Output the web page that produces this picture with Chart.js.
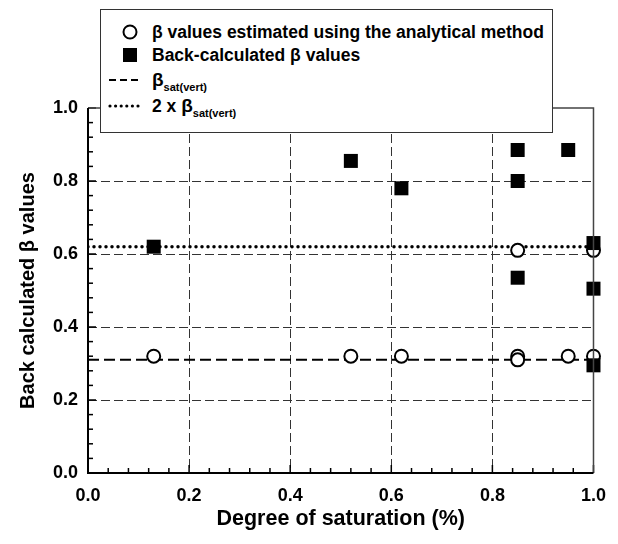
<!DOCTYPE html>
<html>
<head>
<meta charset="utf-8">
<script src="https://cdn.jsdelivr.net/npm/chart.js@4.4.1/dist/chart.umd.min.js"></script>
<style>
  html, body { margin: 0; padding: 0; background: #fff; }
  #wrap { position: relative; width: 618px; height: 544px; }
  #legend {
    position: absolute; left: 100px; top: 9px; width: 453px; height: 124px;
    border: 1px solid #333; background: #fff; box-sizing: border-box;
    font-family: "Liberation Sans", Arial, sans-serif; font-weight: bold; font-size: 17.5px; color: #000;
  }
  .row { position: absolute; left: 0; height: 22px; width: 100%; }
  .row svg { position: absolute; left: 6px; top: 0; }
  .row .txt { position: absolute; left: 51px; top: 0; line-height: 22px; white-space: nowrap; }
  .row sub { font-size: 11px; vertical-align: -5px; }
  .big { font-size: 19px; }
</style>
</head>
<body>
<div id="wrap">
  <canvas id="myChart" width="618" height="544"></canvas>
  <div id="legend">
    <div class="row" style="top:11px">
      <svg width="34" height="22"><circle cx="23" cy="11" r="6.5" fill="#fff" stroke="#000" stroke-width="2"/></svg>
      <span class="txt">&beta; values estimated using the analytical method</span>
    </div>
    <div class="row" style="top:34px">
      <svg width="34" height="22"><rect x="16" y="4" width="14" height="14" fill="#000"/></svg>
      <span class="txt">Back-calculated &beta; values</span>
    </div>
    <div class="row" style="top:59px">
      <svg width="34" height="22"><line x1="2" y1="11" x2="31" y2="11" stroke="#000" stroke-width="2" stroke-dasharray="7,4"/></svg>
      <span class="txt"><span class="big">&beta;</span><sub>sat(vert)</sub></span>
    </div>
    <div class="row" style="top:85px">
      <svg width="34" height="22"><line x1="3" y1="11" x2="32" y2="11" stroke="#000" stroke-width="3.2" stroke-linecap="round" stroke-dasharray="0,5.6"/></svg>
      <span class="txt">2 x <span class="big">&beta;</span><sub>sat(vert)</sub></span>
    </div>
  </div>
</div>
<script>
// degree of saturation vs beta
var circleX = [0.13, 0.52, 0.62, 0.85, 0.85, 0.95, 1.0, 0.85, 1.0];
var circleY = [0.32, 0.32, 0.32, 0.32, 0.31, 0.32, 0.32, 0.61, 0.61];

var squareX = [0.13, 0.52, 0.62, 0.85, 0.85, 0.85, 0.95, 1.0, 1.0, 1.0];
var squareY = [0.62, 0.855, 0.78, 0.885, 0.80, 0.535, 0.885, 0.63, 0.505, 0.295];

var betaSat = 0.31;
var betaSat2 = 0.62;
var lineX = [0, 1];

var xTicks = [0, 0.2, 0.4, 0.6, 0.8, 1.0];
var yTicks = [0, 0.2, 0.4, 0.6, 0.8, 1.0];

var fontFam = '"Liberation Sans", Arial, sans-serif';

function pts(xs, ys) {
    var out = [];
    for (var i = 0; i < xs.length; i++) out.push({x: xs[i], y: ys[i]});
    return out;
}

function gridColor(ctx) {
    var v = ctx.tick ? ctx.tick.value : 0;
    if (Math.abs(v) < 1e-6 || Math.abs(v - 1) < 1e-6) return 'rgba(0,0,0,0)';
    return '#333';
}

// inward ticks (major + minor) and the plot frame
const frameTicks = {
    id: 'frameTicks',
    afterDatasetsDraw(chart) {
        const c = chart.ctx, a = chart.chartArea;
        const xs = chart.scales.x, ys = chart.scales.y;
        c.save();
        c.strokeStyle = '#000';
        c.lineWidth = 1.5;
        for (var k = 0; k <= 25; k++) {
            var v = k * 0.04;
            var len = (k % 5 === 0) ? 8 : 5;
            var px = xs.getPixelForValue(v);
            c.beginPath(); c.moveTo(px, a.bottom); c.lineTo(px, a.bottom - len); c.stroke();
            var py = ys.getPixelForValue(v);
            c.beginPath(); c.moveTo(a.left, py); c.lineTo(a.left + len, py); c.stroke();
        }
        c.strokeStyle = '#444';
        c.lineWidth = 1.5;
        c.beginPath();
        c.moveTo(a.left, a.top); c.lineTo(a.right, a.top); c.lineTo(a.right, a.bottom);
        c.stroke();
        c.strokeStyle = '#000';
        c.lineWidth = 2;
        c.beginPath();
        c.moveTo(a.left, a.top); c.lineTo(a.left, a.bottom); c.lineTo(a.right, a.bottom);
        c.stroke();
        c.restore();
    }
};

const data = {
    datasets: [
        {
            label: 'Back-calculated β values',
            data: pts(squareX, squareY),
            pointStyle: 'rect',
            pointRadius: 9.9,
            backgroundColor: '#000',
            borderColor: '#000',
            borderWidth: 0,
            showLine: false,
            clip: false,
            order: 0
        },
        {
            label: 'β values estimated using the analytical method',
            data: pts(circleX, circleY),
            pointStyle: 'circle',
            pointRadius: 6.5,
            backgroundColor: '#fff',
            borderColor: '#000',
            borderWidth: 2,
            showLine: false,
            clip: false,
            order: 1
        },
        {
            label: 'βsat(vert)',
            data: pts(lineX, [betaSat, betaSat]),
            showLine: true,
            pointRadius: 0,
            borderColor: '#000',
            borderWidth: 2,
            borderDash: [11, 5],
            order: 2
        },
        {
            label: '2 x βsat(vert)',
            data: pts(lineX, [betaSat2, betaSat2]),
            showLine: true,
            pointRadius: 0,
            borderColor: '#000',
            borderWidth: 3.5,
            borderDash: [0, 6],
            borderCapStyle: 'round',
            order: 3
        }
    ]
};

const config = {
    type: 'scatter',
    data,
    options: {
        responsive: false,
        animation: false,
        layout: { padding: { top: 108, right: 24, left: 0, bottom: 0 } },
        plugins: { legend: { display: false }, tooltip: { enabled: false } },
        scales: {
            x: {
                type: 'linear', min: 0, max: 1,
                afterFit: function(s) { s.height = 71; },
                afterBuildTicks: function(s) { s.ticks = xTicks.map(function(v) { return {value: v}; }); },
                grid: { color: gridColor, lineWidth: 1, drawTicks: false },
                border: { display: false, dash: [9, 4] },
                ticks: {
                    padding: 12, color: '#000',
                    font: { family: fontFam, size: 18, weight: 'bold' },
                    callback: function(v) { return Number(v).toFixed(1); }
                },
                title: {
                    display: true, text: 'Degree of saturation (%)', color: '#000',
                    font: { family: fontFam, size: 21.5, weight: 'bold' },
                    padding: { top: 0, bottom: 12 }
                }
            },
            y: {
                type: 'linear', min: 0, max: 1,
                afterFit: function(s) { s.width = 88; },
                afterBuildTicks: function(s) { s.ticks = yTicks.map(function(v) { return {value: v}; }); },
                grid: { color: gridColor, lineWidth: 1, drawTicks: false },
                border: { display: false, dash: [9, 4] },
                ticks: {
                    padding: 10, color: '#000',
                    font: { family: fontFam, size: 18, weight: 'bold' },
                    callback: function(v) { return Number(v).toFixed(1); }
                },
                title: {
                    display: true, text: 'Back calculated β values', color: '#000',
                    font: { family: fontFam, size: 20, weight: 'bold' },
                    padding: { top: 16, bottom: 0 }
                }
            }
        }
    },
    plugins: [frameTicks]
};

const myChart = new Chart(document.getElementById('myChart'), config);
</script>
</body>
</html>
